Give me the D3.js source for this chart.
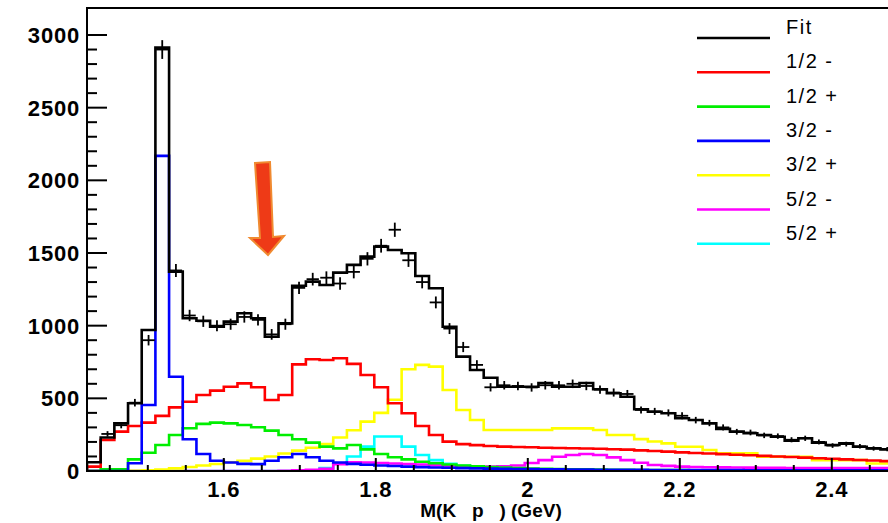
<!DOCTYPE html>
<html><head><meta charset="utf-8">
<script src="https://cdn.jsdelivr.net/npm/d3@7"></script>
<style>body{margin:0;background:#fff}svg{display:block}text{font-family:"Liberation Sans",Arial,sans-serif}</style>
</head><body><svg id="c" width="888" height="523"></svg>
<script>
const binStart = 1.42, binWidth = 0.018;
const fit  = [60,230,328,466,970,2913,1372,1051,1034,993,1028,1085,1051,924,1016,1275,1303,1280,1365,1418,1475,1544,1521,1498,1342,1257,993,787,695,642,580,580,580,605,580,580,605,562,535,511,425,408,397,363,351,328,290,271,260,248,236,209,225,195,179,190,167,156,149,133];
const data = [null,255,315,470,900,2900,1380,1070,1030,1000,1010,1060,1040,940,1010,1260,1320,1330,1290,1370,1460,1550,1660,1450,1300,1160,980,853,730,576,590,585,575,590,590,600,585,560,540,530,420,410,400,380,350,330,300,270,265,245,240,215,225,200,175,185,170,155,150,135];
const half1m = [30,213,271,310,333,379,438,477,523,553,580,603,576,489,523,734,769,764,776,737,661,576,466,397,310,248,202,185,178,172,168,165,163,160,158,157,155,153,150,147,142,138,133,128,124,120,116,112,108,104,100,96,92,88,84,80,76,72,68,64];
const half1p = [0,11,11,80,126,179,248,294,324,333,328,317,301,278,248,218,195,168,156,179,149,117,95,80,64,53,45,38,32,27,23,20,17,15,13,12,11,10,9,8,7,7,6,6,5,5,5,4,4,4,4,3,3,3,3,3,3,3,3,3];
const half3m = [0,0,0,53,454,2168,649,218,117,71,58,49,47,71,95,117,95,71,58,49,43,38,34,30,27,24,22,20,18,16,15,14,13,12,11,10,10,9,9,8,8,7,7,7,6,6,6,6,5,5,5,5,5,5,5,5,5,5,5,5];
const half3p = [0,0,0,2,5,10,18,28,38,48,60,70,85,100,120,140,160,185,230,280,340,400,490,700,730,718,557,420,351,282,282,282,282,282,293,293,293,282,248,248,219,203,190,167,167,144,121,121,121,98,98,98,98,75,75,75,75,52,52,52];
const half5m = [0,0,0,0,0,0,0,0,0,0,0,0,0,0,2,5,8,15,47,60,58,55,52,48,45,40,32,28,30,30,32,38,55,75,98,110,117,110,94,75,57,41,35,30,28,26,25,24,23,22,22,21,21,20,20,20,20,20,20,20];
const half5p = [0,0,0,0,0,0,0,0,0,0,0,0,0,0,0,0,5,20,53,100,168,237,237,168,110,75,50,35,25,20,15,12,10,8,7,6,6,5,5,5,5,5,5,5,5,5,5,5,5,5,5,5,5,5,5,5,5,5,5,5];
const legendLabels = ["Fit","1/2 -","1/2 +","3/2 -","3/2 +","5/2 -","5/2 +"];
const colors = ["#000000","#ff0000","#00ee00","#0000ff","#ffff00","#ff00ff","#00ffff"];
const xTicks = [1.6,1.8,2.0,2.2,2.4];
const xTickLabels = ["1.6","1.8","2","2.2","2.4"];
const yTicks = [0,500,1000,1500,2000,2500,3000];

const svg = d3.select("#c");
const L=87, T=8, B=471;
const x = d3.scaleLinear().domain([1.42,2.5]).range([L, L+1.08*760]);
const y = d3.scaleLinear().domain([0,3000]).range([B, B-436]);

svg.append("clipPath").attr("id","cp").append("rect").attr("x",L).attr("y",T).attr("width",900).attr("height",B-T);
const g = svg.append("g").attr("clip-path","url(#cp)");

function stepPath(vals){
  let d="";
  vals.forEach((v,i)=>{
    const x0=x(binStart+i*binWidth), x1=x(binStart+(i+1)*binWidth), yy=y(v);
    d += (i===0? "M"+x0+","+y(0)+"L"+x0+","+yy : "L"+x0+","+yy) + "L"+x1+","+yy;
  });
  return d;
}
const series = [fit,half1m,half1p,half3m,half3p,half5m,half5p];
[half5p,half5m,half3p,half1p,half1m,half3m].forEach(s=>{
  const ci = series.indexOf(s);
  g.append("path").attr("d",stepPath(s)).attr("fill","none").attr("stroke",colors[ci]).attr("stroke-width",2.6);
});
g.append("path").attr("d",stepPath(fit)).attr("fill","none").attr("stroke","#000").attr("stroke-width",2.6);

data.forEach((v,i)=>{
  if(v==null) return;
  const xc=x(binStart+(i+0.5)*binWidth), hw=(x(binWidth)-x(0))*0.45;
  const e=Math.sqrt(v)*1.2;
  g.append("line").attr("x1",xc-hw).attr("x2",xc+hw).attr("y1",y(v)).attr("y2",y(v)).attr("stroke","#000").attr("stroke-width",1.8);
  g.append("line").attr("x1",xc).attr("x2",xc).attr("y1",y(v+e)).attr("y2",y(v-e)).attr("stroke","#000").attr("stroke-width",1.8);
});

svg.append("path").attr("d",`M900,${T}L${L},${T}L${L},${B}L900,${B}`).attr("fill","none").attr("stroke","#000").attr("stroke-width",2);

d3.range(0,3001,100).forEach(v=>{
  const major = v%500===0;
  svg.append("line").attr("x1",L).attr("x2",L+(major?20:10)).attr("y1",y(v)).attr("y2",y(v)).attr("stroke","#000").attr("stroke-width",2);
});
yTicks.forEach(v=>svg.append("text").attr("x",80).attr("y",y(v)+8).attr("text-anchor","end").attr("font-size",22).attr("font-weight","bold").attr("letter-spacing",0.8).text(v));
d3.range(1.45,2.5,0.05).forEach(v=>{
  const major = xTicks.some(t=>Math.abs(t-v)<1e-6);
  svg.append("line").attr("x1",x(v)).attr("x2",x(v)).attr("y1",B).attr("y2",B-(major?13:6)).attr("stroke","#000").attr("stroke-width",2);
});
xTicks.forEach((v,i)=>svg.append("text").attr("x",x(v)).attr("y",B+26).attr("text-anchor","middle").attr("font-size",22).attr("font-weight","bold").attr("letter-spacing",0.8).text(xTickLabels[i]));
svg.append("text").attr("x",491).attr("y",517).attr("text-anchor","middle").attr("font-size",19).attr("font-weight","bold").attr("xml:space","preserve").text("M(K   p   ) (GeV)");

legendLabels.forEach((lab,i)=>{
  const ly = 38 + i*34.3;
  svg.append("line").attr("x1",697).attr("x2",770).attr("y1",ly).attr("y2",ly).attr("stroke",colors[i]).attr("stroke-width",2.6);
  svg.append("text").attr("x",786).attr("y",ly-4).attr("font-size",20).attr("letter-spacing",1.5).text(lab);
});

const arrowPts = [[255,163],[270,162],[273,237],[284,236],[268,255],[250,238],[260,238]];
svg.append("polygon").attr("points",arrowPts.map(p=>p.join(",")).join(" ")).attr("fill","#ee3a17").attr("stroke","#f08a30").attr("stroke-width",2);
</script></body></html>
